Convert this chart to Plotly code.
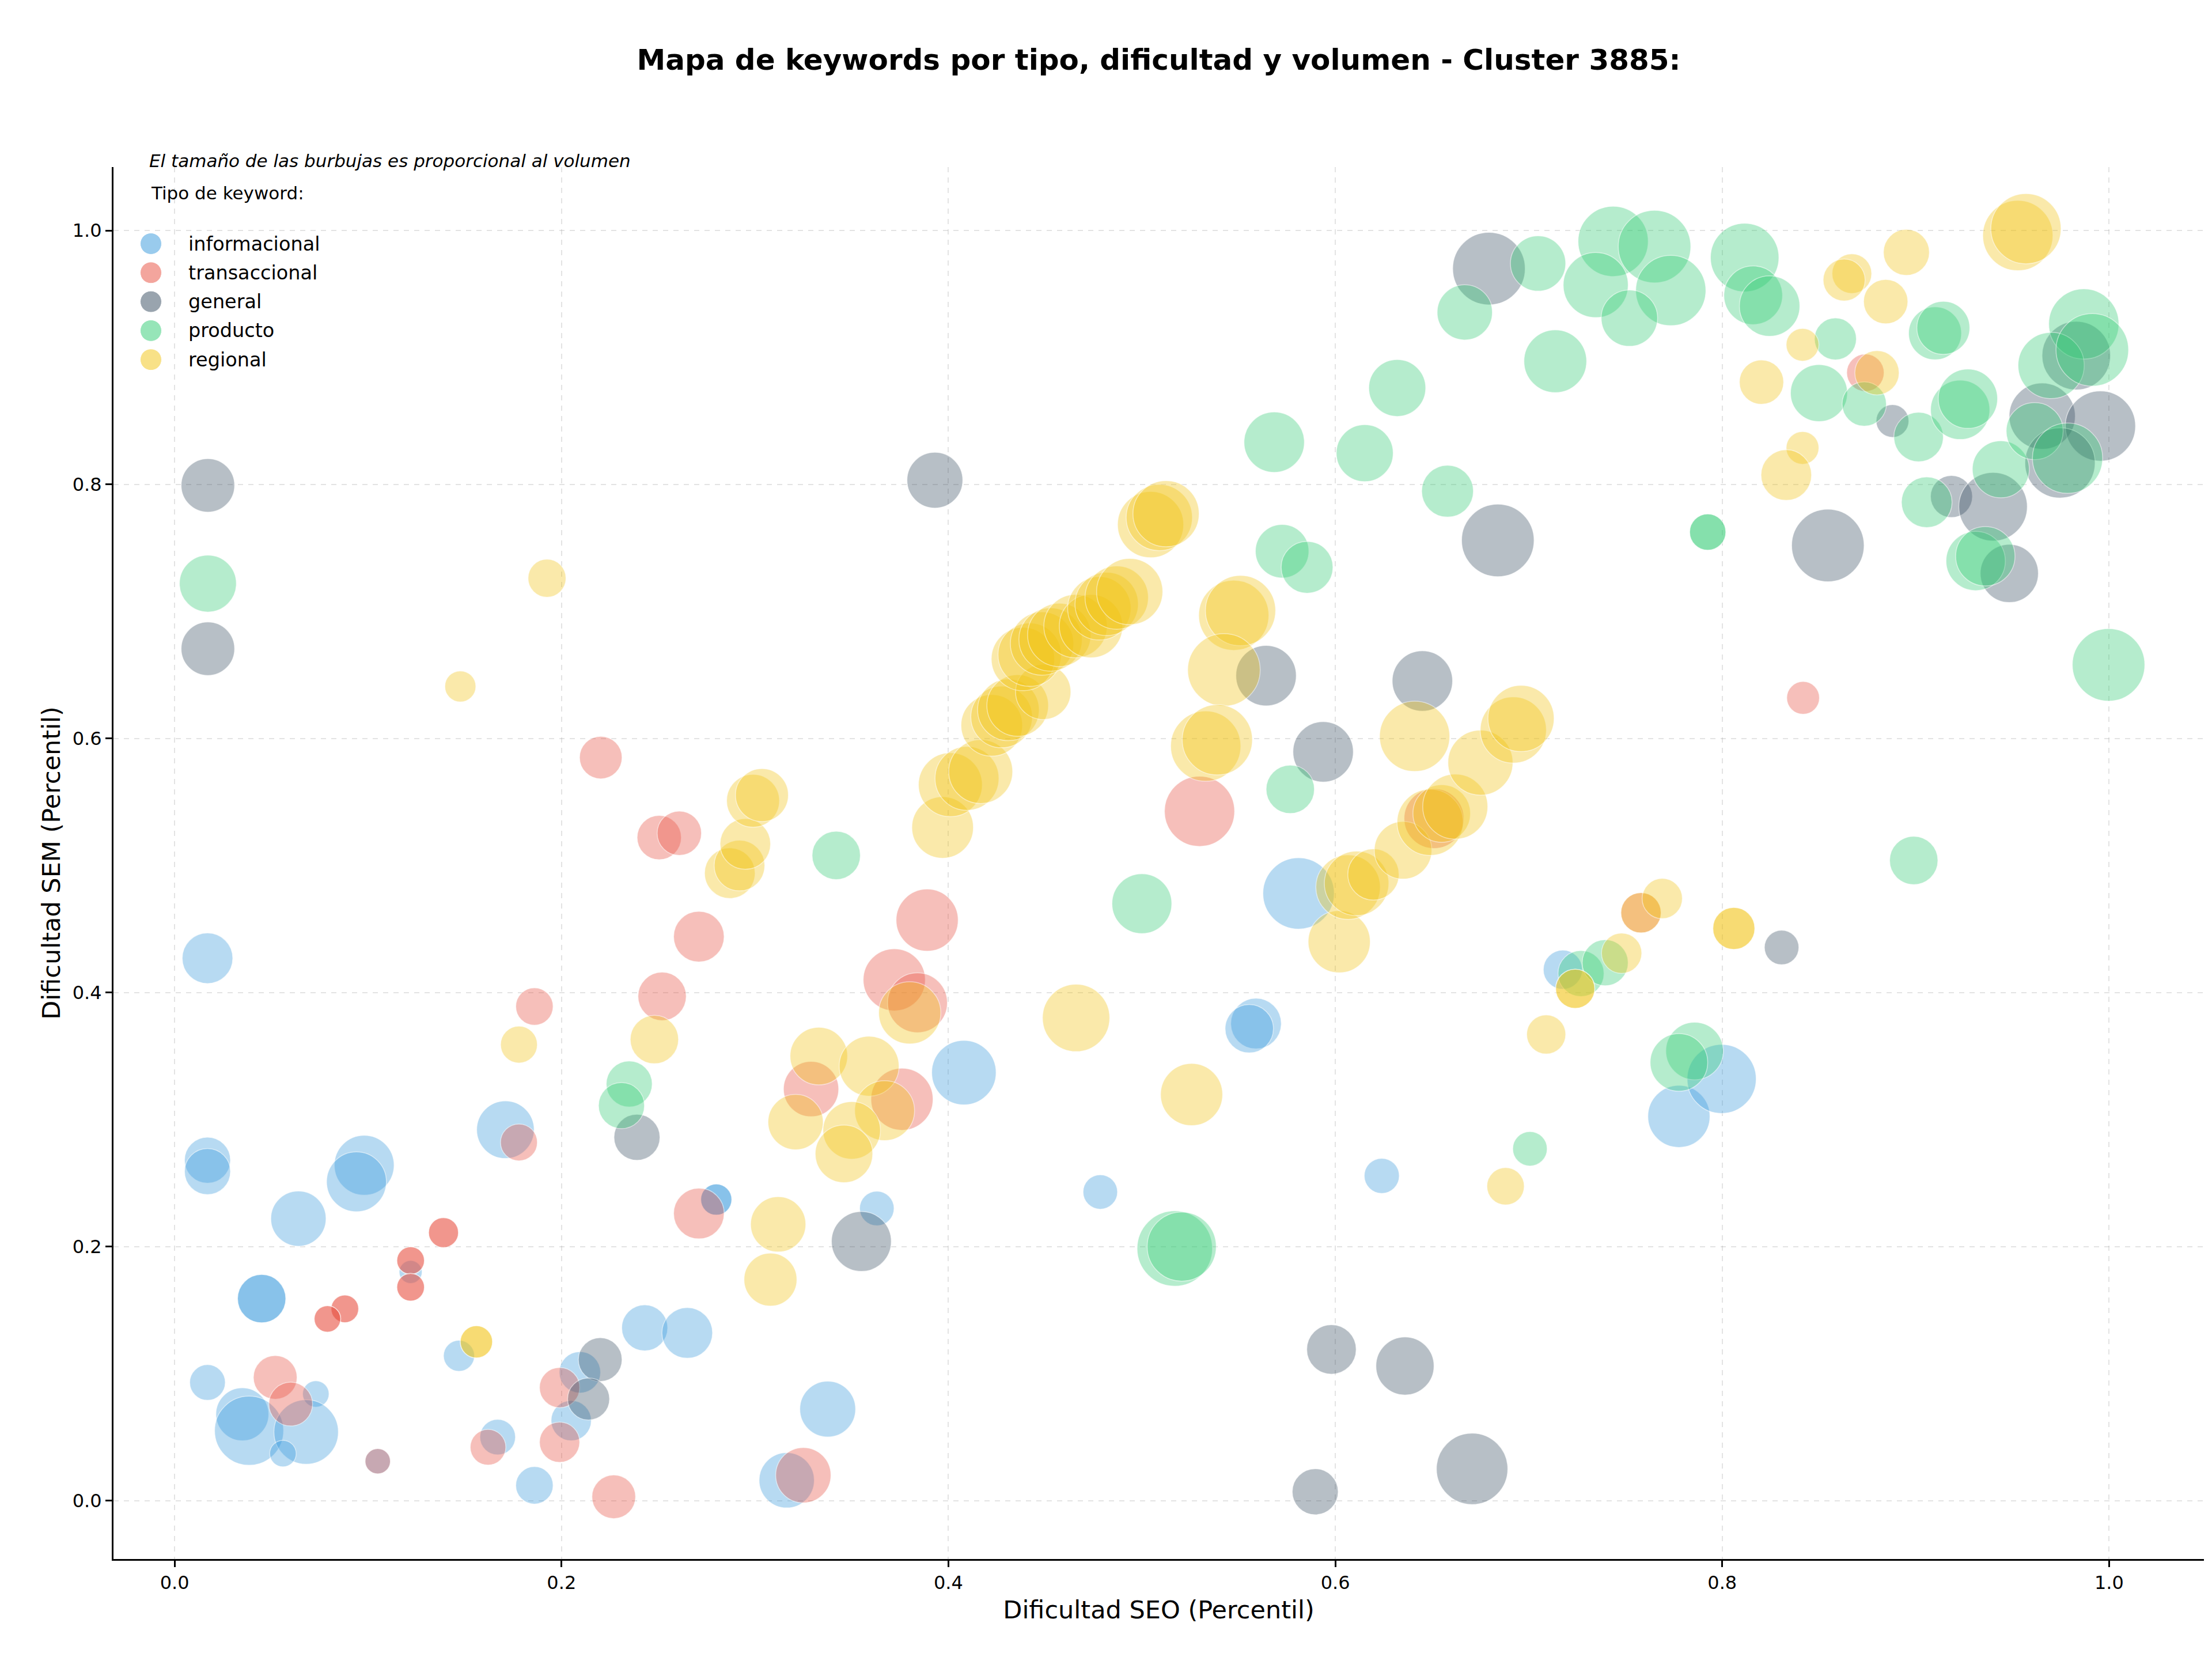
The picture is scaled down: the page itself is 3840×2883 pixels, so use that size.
import math
import plotly.graph_objects as go

# ---------------- data: (SEO percentile, SEM percentile, volume) ----------------
informacional = [
    (0.017, 0.427, 774), (0.017, 0.268, 640), (0.017, 0.259, 640), (0.098, 0.264, 1082),
    (0.094, 0.251, 1082), (0.064, 0.222, 922), (0.171, 0.292, 1000), (0.045, 0.159, 706),
    (0.045, 0.159, 706), (0.122, 0.180, 160), (0.147, 0.114, 292), (0.017, 0.093, 384),
    (0.035, 0.068, 846), (0.0385, 0.055, 1440), (0.073, 0.084, 212), (0.068, 0.054, 1254),
    (0.056, 0.037, 212), (0.105, 0.031, 194), (0.167, 0.050, 384), (0.186, 0.012, 423),
    (0.2095, 0.101, 518), (0.205, 0.063, 490), (0.243, 0.136, 640), (0.265, 0.132, 774),
    (0.280, 0.237, 292), (0.280, 0.237, 292), (0.3376, 0.072, 941), (0.3164, 0.016, 922),
    (0.363, 0.230, 360), (0.408, 0.337, 1254), (0.4785, 0.243, 360), (0.559, 0.3756, 774),
    (0.5555, 0.3715, 706), (0.581, 0.478, 1538), (0.624, 0.2557, 372), (0.7176, 0.418, 462),
    (0.7776, 0.3025, 1166), (0.7997, 0.332, 1440),
]

transaccional = [
    (0.186, 0.389, 423), (0.178, 0.282, 410), (0.139, 0.211, 270), (0.139, 0.211, 270),
    (0.122, 0.189, 230), (0.122, 0.189, 230), (0.122, 0.168, 230), (0.122, 0.168, 230),
    (0.088, 0.151, 230), (0.088, 0.151, 230), (0.079, 0.143, 212), (0.079, 0.143, 212),
    (0.052, 0.097, 578), (0.060, 0.076, 578), (0.105, 0.031, 194), (0.162, 0.042, 384),
    (0.227, 0.003, 578), (0.199, 0.089, 490), (0.199, 0.046, 490), (0.2203, 0.585, 548),
    (0.2505, 0.522, 593), (0.2609, 0.5254, 593), (0.271, 0.444, 774), (0.389, 0.457, 1166),
    (0.252, 0.397, 706), (0.372, 0.410, 1166), (0.384, 0.392, 1082), (0.329, 0.324, 922),
    (0.376, 0.316, 1166), (0.271, 0.226, 774), (0.325, 0.020, 922), (0.5298, 0.5427, 1488),
    (0.651, 0.537, 1082), (0.758, 0.4628, 490), (0.874, 0.888, 423), (0.8418, 0.632, 325),
]

general = [
    (0.0172, 0.7993, 865), (0.0172, 0.6707, 865), (0.239, 0.286, 640), (0.220, 0.111, 578),
    (0.214, 0.080, 533), (0.355, 0.204, 1082), (0.393, 0.8034, 941), (0.5642, 0.6495, 1102),
    (0.5937, 0.5895, 1102), (0.645, 0.6453, 1102), (0.598, 0.119, 740), (0.636, 0.106, 1020),
    (0.6707, 0.025, 1538), (0.5896, 0.007, 640), (0.6794, 0.970, 1588), (0.684, 0.756, 1588),
    (0.8307, 0.4355, 360), (0.888, 0.850, 325), (0.8546, 0.752, 1588), (0.9185, 0.7905, 533),
    (0.940, 0.7825, 1416), (0.9484, 0.730, 1020), (0.983, 0.9015, 1416), (0.9654, 0.8538, 1322),
    (0.9955, 0.846, 1488), (0.9746, 0.817, 1488),
]

producto = [
    (0.0172, 0.722, 980), (0.235, 0.328, 640), (0.231, 0.311, 640), (0.342, 0.508, 706),
    (0.500, 0.470, 1082), (0.517, 0.1985, 1716), (0.5206, 0.200, 1440), (0.7006, 0.277, 360),
    (0.727, 0.415, 640), (0.7395, 0.4235, 640), (0.7857, 0.354, 1000), (0.7776, 0.345, 1000),
    (0.899, 0.504, 706), (0.7925, 0.7625, 397), (0.7925, 0.7625, 397), (0.6669, 0.9355, 922),
    (0.7048, 0.974, 922), (0.7436, 0.9914, 1488), (0.765, 0.9873, 1588), (0.7346, 0.957, 1277),
    (0.7734, 0.9527, 1488), (0.752, 0.931, 960), (0.7137, 0.897, 1188), (0.632, 0.876, 980),
    (0.5684, 0.8333, 1102), (0.6152, 0.8247, 980), (0.658, 0.7947, 810), (0.5725, 0.7475, 865),
    (0.5854, 0.7348, 810), (0.5767, 0.560, 706), (0.8116, 0.9787, 1416), (0.816, 0.949, 1040),
    (0.8245, 0.9405, 1102), (0.8585, 0.9146, 533), (0.850, 0.872, 980), (0.8734, 0.8633, 593),
    (0.9015, 0.8374, 740), (0.910, 0.919, 846), (0.9143, 0.9233, 846), (0.923, 0.8588, 1061),
    (0.927, 0.8675, 1061), (0.9057, 0.786, 774), (0.944, 0.812, 980), (0.931, 0.7398, 1061),
    (0.936, 0.7435, 1061), (0.9869, 0.9264, 1488), (0.970, 0.8937, 1322), (0.9913, 0.906, 1588),
    (0.9615, 0.842, 980), (0.9785, 0.8207, 1488), (0.9997, 0.658, 1588),
]

regional = [
    (0.1925, 0.7262, 436), (0.1477, 0.641, 292), (0.178, 0.359, 410), (0.248, 0.363, 706),
    (0.156, 0.125, 314), (0.156, 0.125, 314), (0.287, 0.494, 774), (0.292, 0.500, 774),
    (0.295, 0.517, 774), (0.299, 0.551, 846), (0.3036, 0.5555, 846), (0.312, 0.2175, 922),
    (0.308, 0.174, 846), (0.321, 0.298, 922), (0.333, 0.350, 1000), (0.359, 0.342, 1082),
    (0.367, 0.307, 1082), (0.350, 0.2915, 1000), (0.346, 0.273, 1000), (0.380, 0.384, 1166),
    (0.397, 0.530, 1145), (0.401, 0.5636, 1232), (0.4096, 0.5686, 1232), (0.4167, 0.574, 1232),
    (0.4224, 0.6104, 1145), (0.4275, 0.617, 1145), (0.431, 0.6226, 1145), (0.4358, 0.626, 1145),
    (0.449, 0.6367, 922), (0.4385, 0.6626, 1210), (0.442, 0.666, 1210), (0.4484, 0.6748, 1210),
    (0.4528, 0.678, 1210), (0.4573, 0.6816, 1210), (0.4657, 0.6885, 1210), (0.4737, 0.6885, 1210),
    (0.478, 0.7025, 1210), (0.4818, 0.706, 1210), (0.487, 0.711, 1210), (0.4937, 0.7157, 1322),
    (0.5045, 0.7684, 1322), (0.509, 0.774, 1322), (0.5125, 0.777, 1322), (0.466, 0.380, 1369),
    (0.5257, 0.3197, 1166), (0.5475, 0.697, 1488), (0.551, 0.7007, 1488), (0.5424, 0.654, 1588),
    (0.533, 0.594, 1488), (0.539, 0.599, 1488), (0.602, 0.440, 1166), (0.6066, 0.483, 1254),
    (0.611, 0.486, 1254), (0.6197, 0.493, 792), (0.635, 0.512, 1000), (0.641, 0.6017, 1488),
    (0.649, 0.534, 1322), (0.655, 0.541, 1000), (0.662, 0.5464, 1277), (0.675, 0.581, 1277),
    (0.692, 0.6067, 1322), (0.696, 0.6158, 1322), (0.709, 0.367, 462), (0.688, 0.2475, 423),
    (0.724, 0.403, 462), (0.724, 0.403, 462), (0.748, 0.431, 490), (0.758, 0.4628, 490),
    (0.769, 0.474, 490), (0.806, 0.4505, 533), (0.806, 0.4505, 533), (0.9528, 0.996, 1488),
    (0.957, 1.0014, 1488), (0.8952, 0.9828, 640), (0.867, 0.966, 476), (0.863, 0.961, 533),
    (0.8845, 0.944, 593), (0.8415, 0.910, 325), (0.8203, 0.8806, 593), (0.880, 0.888, 593),
    (0.8415, 0.8288, 325), (0.8331, 0.8074, 774),
]

tipos = ["informacional", "transaccional", "general", "producto", "regional"]
series = [informacional, transaccional, general, producto, regional]
colores = ["#3498db", "#e74c3c", "#34495e", "#2ecc71", "#f1c40f"]

x_ticks = [0.0, 0.2, 0.4, 0.6, 0.8, 1.0]
y_ticks = [0.0, 0.2, 0.4, 0.6, 0.8, 1.0]

# ---------------- layout geometry ----------------
W, H = 3840, 2883
ML, MR, MT, MB = 197, 14, 290, 177
PW, PH = W - ML - MR, H - MT - MB
FONT = "DejaVu Sans"


def px_x(px):
    return (px - ML) / PW


def px_y(py):
    return (H - MB - py) / PH


def rgba(hexc, a):
    h = hexc.lstrip("#")
    r, g, b = int(h[0:2], 16), int(h[2:4], 16), int(h[4:6], 16)
    return f"rgba({r},{g},{b},{a})"


fig = go.Figure()
for nombre, datos, col in zip(tipos, series, colores):
    xs = [d[0] for d in datos]
    ys = [d[1] for d in datos]
    vols = [d[2] for d in datos]
    sizes = [math.sqrt(v * 10) for v in vols]
    fig.add_trace(go.Scatter(
        x=xs, y=ys, mode="markers", name=nombre, showlegend=False,
        marker=dict(size=sizes, sizemode="diameter", color=rgba(col, 0.5),
                    line=dict(color="rgba(255,255,255,0.7)", width=1.5)),
        hovertemplate=nombre + "<br>SEO %{x:.2f}<br>SEM %{y:.2f}<extra></extra>",
    ))

# ---------------- manual legend ----------------
shapes = []
annotations = []
leg_cx = 262
leg_tx = 325
leg_y0 = 423
leg_dy = 50.3
r = 18.5
for i, (nombre, col) in enumerate(zip(tipos, colores)):
    cy = leg_y0 + i * leg_dy
    shapes.append(dict(type="circle", xref="paper", yref="paper",
                       x0=px_x(leg_cx - r), x1=px_x(leg_cx + r),
                       y0=px_y(cy + r), y1=px_y(cy - r),
                       fillcolor=rgba(col, 0.5), line=dict(color="white", width=1)))
    annotations.append(dict(x=px_x(leg_tx), y=px_y(cy), xref="paper", yref="paper",
                            text=nombre, showarrow=False, xanchor="left", yanchor="middle",
                            font=dict(family=FONT, size=33.5, color="#000000")))

annotations.append(dict(x=px_x(260), y=px_y(335), xref="paper", yref="paper",
                        text="Tipo de keyword:", showarrow=False, xanchor="left",
                        yanchor="middle", font=dict(family=FONT, size=31, color="#000000")))
annotations.append(dict(x=px_x(257), y=px_y(279), xref="paper", yref="paper",
                        text="<i>El tamaño de las burbujas es proporcional al volumen</i>",
                        showarrow=False, xanchor="left", yanchor="middle",
                        font=dict(family=FONT, size=31, color="#000000")))

axis_common = dict(
    showgrid=True, gridcolor="rgba(176,176,176,0.35)", gridwidth=2, griddash="dash",
    zeroline=False, showline=True, linecolor="#000000", linewidth=3,
    ticks="outside", ticklen=11, tickwidth=3, tickcolor="#000000",
    tickfont=dict(family=FONT, size=32, color="#000000"), mirror=False,
)

fig.update_layout(
    width=W, height=H,
    margin=dict(l=ML, r=MR, t=MT, b=MB, pad=0),
    paper_bgcolor="white", plot_bgcolor="white",
    title=dict(text="<b>Mapa de keywords por tipo, dificultad y volumen - Cluster 3885:</b>",
               x=0.5, xref="paper", xanchor="center", y=1 - 103 / H, yref="container",
               yanchor="middle", font=dict(family=FONT, size=50, color="#000000")),
    xaxis=dict(range=[-0.0316, 1.049], tickvals=x_ticks,
               ticktext=[f"{v:.1f}" for v in x_ticks],
               title=dict(text="Dificultad SEO (Percentil)", standoff=14,
                          font=dict(family=FONT, size=43, color="#000000")),
               **axis_common),
    yaxis=dict(range=[-0.046, 1.0499], tickvals=y_ticks,
               ticktext=[f"{v:.1f}" for v in y_ticks],
               title=dict(text="Dificultad SEM (Percentil)", standoff=8,
                          font=dict(family=FONT, size=43, color="#000000")),
               **axis_common),
    shapes=shapes,
    annotations=annotations,
    showlegend=False,
)

fig.write_html("out.html")
